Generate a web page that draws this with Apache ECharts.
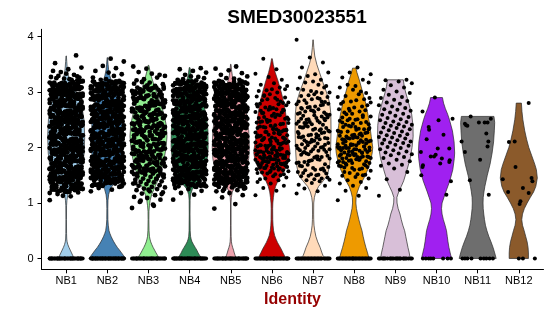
<!DOCTYPE html>
<html>
<head>
<meta charset="utf-8">
<script src="https://cdn.jsdelivr.net/npm/echarts@6/dist/echarts.min.js"></script>
<style>html,body{margin:0;padding:0;background:#fff}#c{width:550px;height:316px}</style>
</head>
<body>
<div id="c"></div>
<script>
// ---------- data ----------
const categories = ['NB1','NB2','NB3','NB4','NB5','NB6','NB7','NB8','NB9','NB10','NB11','NB12'];
const yTicks = [0, 1, 2, 3, 4];
const chartTitle = 'SMED30023551';
const xTitle = 'Identity';

// violin outlines: [expression value, relative half-width (1 = widest)]
const vNB1 = [[0,0.42],[0.05,0.36],[0.1,0.29],[0.15,0.22],[0.2,0.15],[0.25,0.09],[0.3,0.05],[0.35,0.03],[0.45,0.02],[0.7,0.015],[0.95,0.02],[1.05,0.04],[1.15,0.09],[1.25,0.2],[1.35,0.42],[1.5,0.7],[1.7,0.9],[1.9,0.97],[2.2,1.0],[2.5,0.96],[2.7,0.87],[2.9,0.68],[3.05,0.45],[3.15,0.28],[3.25,0.15],[3.35,0.08],[3.45,0.05],[3.55,0.03],[3.65,0.01]];
const vNB2 = [[0,1.0],[0.05,0.88],[0.1,0.77],[0.15,0.66],[0.2,0.54],[0.25,0.44],[0.3,0.35],[0.35,0.27],[0.4,0.2],[0.45,0.14],[0.5,0.09],[0.6,0.05],[0.7,0.03],[0.9,0.025],[1.05,0.035],[1.15,0.07],[1.25,0.15],[1.35,0.35],[1.45,0.55],[1.6,0.72],[1.8,0.82],[2.0,0.86],[2.3,0.86],[2.6,0.8],[2.8,0.68],[3.0,0.48],[3.1,0.34],[3.2,0.22],[3.3,0.13],[3.4,0.07],[3.5,0.04],[3.62,0.01]];
const vNB3 = [[0,0.6],[0.05,0.5],[0.1,0.41],[0.15,0.33],[0.2,0.25],[0.25,0.18],[0.3,0.12],[0.35,0.08],[0.4,0.05],[0.5,0.03],[0.7,0.02],[0.85,0.025],[0.95,0.05],[1.05,0.09],[1.15,0.17],[1.25,0.3],[1.35,0.43],[1.45,0.55],[1.6,0.7],[1.8,0.85],[2.0,0.95],[2.2,1.0],[2.4,0.96],[2.6,0.84],[2.8,0.64],[2.95,0.48],[3.1,0.32],[3.25,0.18],[3.38,0.08],[3.48,0.02]];
const vNB4 = [[0,0.66],[0.05,0.55],[0.1,0.46],[0.15,0.39],[0.2,0.3],[0.25,0.21],[0.3,0.13],[0.35,0.08],[0.4,0.05],[0.5,0.03],[0.8,0.02],[1.05,0.025],[1.15,0.05],[1.25,0.15],[1.35,0.4],[1.45,0.65],[1.6,0.85],[1.8,0.95],[2.0,1.0],[2.3,0.99],[2.6,0.9],[2.8,0.72],[2.95,0.52],[3.05,0.36],[3.15,0.22],[3.25,0.12],[3.35,0.06],[3.44,0.02]];
const vNB5 = [[0,0.29],[0.05,0.24],[0.1,0.19],[0.15,0.15],[0.2,0.1],[0.25,0.06],[0.3,0.035],[0.4,0.02],[0.6,0.015],[1.0,0.015],[1.1,0.03],[1.2,0.08],[1.3,0.25],[1.4,0.55],[1.6,0.85],[1.8,0.97],[2.0,1.0],[2.3,0.97],[2.6,0.85],[2.8,0.65],[3.0,0.38],[3.1,0.25],[3.2,0.15],[3.3,0.08],[3.4,0.04],[3.5,0.01]];
const vNB6 = [[0,0.74],[0.05,0.68],[0.1,0.6],[0.17,0.5],[0.23,0.4],[0.29,0.3],[0.35,0.22],[0.41,0.15],[0.5,0.09],[0.6,0.06],[0.7,0.045],[0.9,0.04],[1.0,0.05],[1.1,0.08],[1.2,0.12],[1.3,0.2],[1.4,0.33],[1.5,0.5],[1.6,0.7],[1.75,0.9],[1.9,0.98],[2.0,0.95],[2.2,0.85],[2.4,0.8],[2.6,0.75],[2.8,0.65],[3.0,0.5],[3.2,0.33],[3.35,0.18],[3.5,0.07],[3.6,0.02]];
const vNB7 = [[0,0.58],[0.05,0.54],[0.1,0.48],[0.2,0.38],[0.3,0.25],[0.4,0.15],[0.5,0.09],[0.6,0.05],[0.7,0.035],[0.8,0.03],[1.0,0.035],[1.1,0.07],[1.2,0.15],[1.3,0.3],[1.4,0.55],[1.5,0.78],[1.7,0.9],[2.0,0.95],[2.3,0.97],[2.6,0.96],[2.8,0.9],[3.0,0.72],[3.2,0.5],[3.35,0.35],[3.5,0.2],[3.65,0.09],[3.8,0.04],[3.94,0.01]];
const vNB8 = [[0,0.8],[0.1,0.72],[0.2,0.63],[0.3,0.55],[0.4,0.48],[0.5,0.42],[0.6,0.33],[0.7,0.25],[0.8,0.18],[0.9,0.12],[1.0,0.09],[1.1,0.1],[1.2,0.17],[1.3,0.28],[1.4,0.45],[1.5,0.6],[1.7,0.85],[1.9,0.97],[2.0,1.0],[2.2,0.92],[2.4,0.84],[2.6,0.74],[2.8,0.62],[3.0,0.45],[3.2,0.29],[3.35,0.15],[3.43,0.09]];
const vNB9 = [[0,0.8],[0.1,0.75],[0.2,0.68],[0.3,0.62],[0.4,0.56],[0.5,0.5],[0.6,0.4],[0.7,0.32],[0.8,0.25],[0.9,0.15],[1.0,0.09],[1.1,0.08],[1.2,0.18],[1.3,0.32],[1.4,0.45],[1.6,0.63],[1.8,0.8],[2.0,0.9],[2.2,0.96],[2.4,0.95],[2.6,0.88],[2.8,0.72],[3.0,0.55],[3.1,0.48],[3.22,0.43]];
const vNB10 = [[0,0.81],[0.1,0.74],[0.2,0.67],[0.3,0.62],[0.4,0.58],[0.5,0.54],[0.6,0.46],[0.7,0.37],[0.8,0.3],[0.9,0.27],[1.0,0.3],[1.1,0.4],[1.2,0.5],[1.4,0.72],[1.6,0.88],[1.8,0.96],[1.9,0.98],[2.1,0.95],[2.3,0.86],[2.5,0.7],[2.6,0.6],[2.7,0.48],[2.8,0.38],[2.9,0.32]];
const vNB11 = [[0,1.0],[0.1,0.92],[0.2,0.83],[0.3,0.72],[0.4,0.6],[0.5,0.5],[0.6,0.42],[0.7,0.37],[0.8,0.33],[0.9,0.3],[1.0,0.29],[1.1,0.3],[1.2,0.34],[1.3,0.39],[1.5,0.52],[1.7,0.67],[1.9,0.78],[2.1,0.86],[2.3,0.9],[2.45,0.92],[2.56,0.88]];
const vNB12 = [[0,0.52],[0.1,0.52],[0.2,0.5],[0.3,0.45],[0.4,0.37],[0.5,0.29],[0.6,0.2],[0.7,0.16],[0.8,0.2],[0.9,0.3],[1.0,0.45],[1.1,0.62],[1.2,0.8],[1.3,0.92],[1.45,1.0],[1.6,0.95],[1.7,0.86],[1.85,0.7],[2.0,0.54],[2.15,0.42],[2.3,0.32],[2.5,0.22],[2.65,0.17],[2.8,0.14]];

// non-zero cell values
const ptsNB1 = [1.05,1.12,1.16,1.19,
1.2,1.24,1.28,1.22,1.26,1.21,1.29,1.23,1.27,1.25,1.2,1.28,1.24,
1.33,1.37,1.31,1.39,1.35,1.3,1.36,1.32,1.38,1.34,1.37,1.31,1.35,
1.46,1.42,1.49,1.44,1.4,1.47,1.43,1.48,1.41,1.45,1.46,1.43,1.49,
1.59,1.55,1.52,1.57,1.53,1.58,1.5,1.54,1.56,1.51,1.53,1.57,1.5,
1.61,1.66,1.63,1.68,1.64,1.69,1.62,1.67,1.65,1.6,1.69,1.64,1.62,
1.7,1.74,1.78,1.72,1.76,1.71,1.79,1.73,1.77,1.75,1.7,1.78,1.74,
1.83,1.87,1.81,1.89,1.85,1.8,1.86,1.82,1.88,1.84,1.87,1.81,1.85,
1.96,1.92,1.99,1.94,1.9,1.97,1.93,1.98,1.91,1.95,1.96,1.93,1.99,
2.09,2.05,2.02,2.07,2.03,2.08,2,2.04,2.06,2.01,2.03,2.07,2,
2.11,2.16,2.13,2.18,2.14,2.19,2.12,2.17,2.15,2.1,2.19,2.14,2.12,
2.2,2.24,2.28,2.22,2.26,2.21,2.29,2.23,2.27,2.25,2.2,2.28,2.24,
2.33,2.37,2.31,2.39,2.35,2.3,2.36,2.32,2.38,2.34,2.37,2.31,2.35,
2.46,2.42,2.49,2.44,2.4,2.47,2.43,2.48,2.41,2.45,2.46,2.43,2.49,
2.59,2.55,2.52,2.57,2.53,2.58,2.5,2.54,2.56,2.51,2.53,2.57,2.5,
2.61,2.66,2.63,2.68,2.64,2.69,2.62,2.67,2.65,2.6,2.69,2.64,2.62,
2.7,2.74,2.78,2.72,2.76,2.71,2.79,2.73,2.77,2.75,2.7,2.78,2.74,
2.83,2.87,2.81,2.89,2.85,2.8,2.86,2.82,2.88,2.84,2.87,2.81,2.85,
2.96,2.92,2.99,2.94,2.9,2.97,2.93,2.98,2.91,2.95,2.96,2.93,2.99,
3.09,3.05,3.02,3.07,3.03,3.08,3,3.04,3.06,3.01,3.03,3.07,3,
3.11,3.16,3.13,3.18,3.14,3.19,3.12,3.17,3.15,3.1,3.19,3.14,3.12,
3.21,3.24,3.27,3.22,3.29,3.26,3.33,3.38,3.31,3.36,3.44,3.41,3.52,3.66,
1.13,1.18,
1.25,1.21,1.28,1.23,1.29,1.26,1.22,1.27,1.2,1.24,1.29,1.23,1.26,
1.38,1.32,1.35,1.3,1.37,1.33,1.39,1.31,1.36,1.34,1.32,1.38,1.35,
1.42,1.49,1.46,1.41,1.48,1.44,1.4,1.47,1.43,1.45,1.41,1.46,1.48,
1.54,1.5,1.57,1.55,1.51,1.59,1.56,1.52,1.58,1.53,1.5,1.55,1.57,
1.67,1.63,1.6,1.66,1.62,1.65,1.68,1.64,1.69,1.61,1.64,1.6,1.66,
1.75,1.71,1.78,1.73,1.79,1.76,1.72,1.77,1.7,1.74,1.79,1.73,1.76,
1.88,1.82,1.85,1.8,1.87,1.83,1.89,1.81,1.86,1.84,1.82,1.88,1.85,
1.92,1.99,1.96,1.91,1.98,1.94,1.9,1.97,1.93,1.95,1.91,1.96,1.98,
2.04,2,2.07,2.05,2.01,2.09,2.06,2.02,2.08,2.03,2,2.05,2.07,
2.17,2.13,2.1,2.16,2.12,2.15,2.18,2.14,2.19,2.11,2.14,2.1,2.16,
2.25,2.21,2.28,2.23,2.29,2.26,2.22,2.27,2.2,2.24,2.29,2.23,2.26,
2.38,2.32,2.35,2.3,2.37,2.33,2.39,2.31,2.36,2.34,2.32,2.38,2.35,
2.42,2.49,2.46,2.41,2.48,2.44,2.4,2.47,2.43,2.45,2.41,2.46,2.48,
2.54,2.5,2.57,2.55,2.51,2.59,2.56,2.52,2.58,2.53,2.5,2.55,2.57,
2.67,2.63,2.6,2.66,2.62,2.65,2.68,2.64,2.69,2.61,2.64,2.6,2.66,
2.75,2.71,2.78,2.73,2.79,2.76,2.72,2.77,2.7,2.74,2.79,2.73,2.76,
2.88,2.82,2.85,2.8,2.87,2.83,2.89,2.81,2.86,2.84,2.82,2.88,2.85,
2.92,2.99,2.96,2.91,2.98,2.94,2.9,2.97,2.93,2.95,2.91,2.96,2.98,
3.04,3,3.07,3.05,3.01,3.09,3.06,3.02,3.08,3.03,3,3.05,3.07,
3.17,3.13,3.1,3.16,3.12,3.15,3.18,3.14,3.19,3.11,3.14,3.1,3.16,
3.2,3.23,3.25,3.28];
const ptsNB2 = [1.21,1.24,1.27,1.29,
1.36,1.32,1.39,1.34,1.3,1.37,1.33,1.38,1.31,1.35,1.36,1.33,1.39,
1.49,1.45,1.42,1.47,1.43,1.48,1.4,1.44,1.46,1.41,1.43,1.47,1.4,
1.51,1.56,1.53,1.58,1.54,1.59,1.52,1.57,1.55,1.5,1.59,1.54,1.52,
1.6,1.64,1.68,1.62,1.66,1.61,1.69,1.63,1.67,1.65,1.6,1.68,1.64,
1.73,1.77,1.71,1.79,1.75,1.7,1.76,1.72,1.78,1.74,1.77,1.71,1.75,
1.86,1.82,1.89,1.84,1.8,1.87,1.83,1.88,1.81,1.85,1.86,1.83,1.89,
1.99,1.95,1.92,1.97,1.93,1.98,1.9,1.94,1.96,1.91,1.93,1.97,1.9,
2.01,2.06,2.03,2.08,2.04,2.09,2.02,2.07,2.05,2,2.09,2.04,2.02,
2.1,2.14,2.18,2.12,2.16,2.11,2.19,2.13,2.17,2.15,2.1,2.18,2.14,
2.23,2.27,2.21,2.29,2.25,2.2,2.26,2.22,2.28,2.24,2.27,2.21,2.25,
2.36,2.32,2.39,2.34,2.3,2.37,2.33,2.38,2.31,2.35,2.36,2.33,2.39,
2.49,2.45,2.42,2.47,2.43,2.48,2.4,2.44,2.46,2.41,2.43,2.47,2.4,
2.51,2.56,2.53,2.58,2.54,2.59,2.52,2.57,2.55,2.5,2.59,2.54,2.52,
2.6,2.64,2.68,2.62,2.66,2.61,2.69,2.63,2.67,2.65,2.6,2.68,2.64,
2.73,2.77,2.71,2.79,2.75,2.7,2.76,2.72,2.78,2.74,2.77,2.71,2.75,
2.86,2.82,2.89,2.84,2.8,2.87,2.83,2.88,2.81,2.85,2.86,2.83,2.89,
2.99,2.95,2.92,2.97,2.93,2.98,2.9,2.94,2.96,2.91,2.93,2.97,2.9,
3.01,3.06,3.03,3.08,3.04,3.09,3.02,3.07,3.05,3,3.09,3.04,3.02,
3.1,3.14,3.18,3.12,3.16,3.11,3.19,3.13,3.17,3.15,3.1,3.18,3.14,
3.2,3.23,3.26,3.29,3.22,3.32,3.35,3.38,3.43,3.47,3.55,3.6,
1.32,1.39,1.36,1.31,1.38,1.34,1.3,1.37,1.33,1.35,1.31,1.36,1.38,
1.44,1.4,1.47,1.45,1.41,1.49,1.46,1.42,1.48,1.43,1.4,1.45,1.47,
1.57,1.53,1.5,1.56,1.52,1.55,1.58,1.54,1.59,1.51,1.54,1.5,1.56,
1.65,1.61,1.68,1.63,1.69,1.66,1.62,1.67,1.6,1.64,1.69,1.63,1.66,
1.78,1.72,1.75,1.7,1.77,1.73,1.79,1.71,1.76,1.74,1.72,1.78,1.75,
1.82,1.89,1.86,1.81,1.88,1.84,1.8,1.87,1.83,1.85,1.81,1.86,1.88,
1.94,1.9,1.97,1.95,1.91,1.99,1.96,1.92,1.98,1.93,1.9,1.95,1.97,
2.07,2.03,2,2.06,2.02,2.05,2.08,2.04,2.09,2.01,2.04,2,2.06,
2.15,2.11,2.18,2.13,2.19,2.16,2.12,2.17,2.1,2.14,2.19,2.13,2.16,
2.28,2.22,2.25,2.2,2.27,2.23,2.29,2.21,2.26,2.24,2.22,2.28,2.25,
2.32,2.39,2.36,2.31,2.38,2.34,2.3,2.37,2.33,2.35,2.31,2.36,2.38,
2.44,2.4,2.47,2.45,2.41,2.49,2.46,2.42,2.48,2.43,2.4,2.45,2.47,
2.57,2.53,2.5,2.56,2.52,2.55,2.58,2.54,2.59,2.51,2.54,2.5,2.56,
2.65,2.61,2.68,2.63,2.69,2.66,2.62,2.67,2.6,2.64,2.69,2.63,2.66,
2.78,2.72,2.75,2.7,2.77,2.73,2.79,2.71,2.76,2.74,2.72,2.78,2.75,
2.82,2.89,2.86,2.81,2.88,2.84,2.8,2.87,2.83,2.85,2.81,2.86,2.88,
2.94,2.9,2.97,2.95,2.91,2.99,2.96,2.92,2.98,2.93,2.9,2.95,2.97,
3.07,3.03,3,3.06,3.02,3.05,3.08,3.04,3.09,3.01,3.04,3,3.06,
3.15,3.11,3.18,3.13,3.19,3.16,3.12,3.17,3.1,3.14,3.19,3.13,3.16];
const ptsNB3 = [0.91,0.97,1.02,1.06,1.09,1.11,1.14,1.17,1.19,1.21,1.23,1.25,1.26,1.28,1.29,1.31,1.32,1.34,1.35,1.37,1.38,1.39,1.4,1.42,1.43,1.44,1.46,1.47,1.48,1.49,
1.51,1.56,1.53,1.58,1.54,1.59,1.52,1.57,1.55,1.5,
1.6,1.64,1.68,1.62,1.66,1.61,1.69,1.63,1.67,1.65,
1.73,1.77,1.71,1.79,1.75,1.7,1.76,1.72,1.78,1.74,
1.86,1.82,1.89,1.84,1.8,1.87,1.83,1.88,1.81,1.85,
1.99,1.95,1.92,1.97,1.93,1.98,1.9,1.94,1.96,1.91,
2.01,2.06,2.03,2.08,2.04,2.09,2.02,2.07,2.05,2,
2.1,2.14,2.18,2.12,2.16,2.11,2.19,2.13,2.17,2.15,
2.23,2.27,2.21,2.29,2.25,2.2,2.26,2.22,2.28,2.24,
2.36,2.32,2.39,2.34,2.3,2.37,2.33,2.38,2.31,2.35,
2.49,2.45,2.42,2.47,2.43,2.48,2.4,2.44,2.46,2.41,
2.51,2.56,2.53,2.58,2.54,2.59,2.52,2.57,2.55,2.5,
2.6,2.64,2.68,2.62,2.66,2.61,2.69,2.63,2.67,2.65,
2.73,2.77,2.71,2.79,2.75,2.7,2.76,2.72,2.78,2.74,
2.86,2.82,2.89,2.84,2.8,2.87,2.83,2.88,2.81,2.85,
2.99,2.95,2.92,2.97,2.93,2.98,2.9,2.94,2.96,2.91,
3.01,3.06,3.03,3.08,3.04,3.09,3.02,3.07,3.05,3,
3.12,3.15,3.11,3.18,3.14,3.17,3.21,3.26,3.23,3.29,3.33,3.36,3.31,3.42,3.46,
0.95,1.04,1.16,1.24,1.36,1.44,
1.55,1.51,1.58,1.53,1.59,1.56,
1.68,1.62,1.65,1.6,1.67,1.63,
1.72,1.79,1.76,1.71,1.78,1.74,
1.84,1.8,1.87,1.85,1.81,1.89,
1.97,1.93,1.9,1.96,1.92,1.95,
2.05,2.01,2.08,2.03,2.09,2.06,
2.18,2.12,2.15,2.1,2.17,2.13,
2.22,2.29,2.26,2.21,2.28,2.24,
2.34,2.3,2.37,2.35,2.31,2.39,
2.47,2.43,2.4,2.46,2.42,2.45,
2.55,2.51,2.58,2.53,2.59,2.56,
2.68,2.62,2.65,2.6,2.67,2.63,
2.72,2.79,2.76,2.71,2.78,2.74,
2.84,2.8,2.87,2.85,2.81,2.89,
2.97,2.93,2.9,2.96,2.92,2.95,
3.05,3.01,3.08,3.03,3.09,3.06];
const ptsNB4 = [1.06,1.15,1.18,1.22,1.25,1.27,1.29,
1.39,1.35,1.32,1.37,1.33,1.38,1.3,1.34,1.36,1.31,1.33,1.37,1.3,
1.41,1.46,1.43,1.48,1.44,1.49,1.42,1.47,1.45,1.4,1.49,1.44,1.42,
1.5,1.54,1.58,1.52,1.56,1.51,1.59,1.53,1.57,1.55,1.5,1.58,1.54,
1.63,1.67,1.61,1.69,1.65,1.6,1.66,1.62,1.68,1.64,1.67,1.61,1.65,
1.76,1.72,1.79,1.74,1.7,1.77,1.73,1.78,1.71,1.75,1.76,1.73,1.79,
1.89,1.85,1.82,1.87,1.83,1.88,1.8,1.84,1.86,1.81,1.83,1.87,1.8,
1.91,1.96,1.93,1.98,1.94,1.99,1.92,1.97,1.95,1.9,1.99,1.94,1.92,
2,2.04,2.08,2.02,2.06,2.01,2.09,2.03,2.07,2.05,2,2.08,2.04,
2.13,2.17,2.11,2.19,2.15,2.1,2.16,2.12,2.18,2.14,2.17,2.11,2.15,
2.26,2.22,2.29,2.24,2.2,2.27,2.23,2.28,2.21,2.25,2.26,2.23,2.29,
2.39,2.35,2.32,2.37,2.33,2.38,2.3,2.34,2.36,2.31,2.33,2.37,2.3,
2.41,2.46,2.43,2.48,2.44,2.49,2.42,2.47,2.45,2.4,2.49,2.44,2.42,
2.5,2.54,2.58,2.52,2.56,2.51,2.59,2.53,2.57,2.55,2.5,2.58,2.54,
2.63,2.67,2.61,2.69,2.65,2.6,2.66,2.62,2.68,2.64,2.67,2.61,2.65,
2.76,2.72,2.79,2.74,2.7,2.77,2.73,2.78,2.71,2.75,2.76,2.73,2.79,
2.89,2.85,2.82,2.87,2.83,2.88,2.8,2.84,2.86,2.81,2.83,2.87,2.8,
2.91,2.96,2.93,2.98,2.94,2.99,2.92,2.97,2.95,2.9,2.99,2.94,2.92,
3,3.04,3.08,3.02,3.06,3.01,3.09,3.03,3.07,3.05,3,3.08,3.04,
3.13,3.17,3.11,3.19,3.15,3.1,3.16,3.12,3.18,3.14,3.17,3.11,3.15,
3.21,3.23,3.25,3.28,3.22,3.27,3.31,3.35,3.38,3.41,3.43,
1.37,1.33,1.3,1.36,1.32,1.35,1.38,1.34,1.39,1.31,1.34,1.3,1.36,
1.45,1.41,1.48,1.43,1.49,1.46,1.42,1.47,1.4,1.44,1.49,1.43,1.46,
1.58,1.52,1.55,1.5,1.57,1.53,1.59,1.51,1.56,1.54,1.52,1.58,1.55,
1.62,1.69,1.66,1.61,1.68,1.64,1.6,1.67,1.63,1.65,1.61,1.66,1.68,
1.74,1.7,1.77,1.75,1.71,1.79,1.76,1.72,1.78,1.73,1.7,1.75,1.77,
1.87,1.83,1.8,1.86,1.82,1.85,1.88,1.84,1.89,1.81,1.84,1.8,1.86,
1.95,1.91,1.98,1.93,1.99,1.96,1.92,1.97,1.9,1.94,1.99,1.93,1.96,
2.08,2.02,2.05,2,2.07,2.03,2.09,2.01,2.06,2.04,2.02,2.08,2.05,
2.12,2.19,2.16,2.11,2.18,2.14,2.1,2.17,2.13,2.15,2.11,2.16,2.18,
2.24,2.2,2.27,2.25,2.21,2.29,2.26,2.22,2.28,2.23,2.2,2.25,2.27,
2.37,2.33,2.3,2.36,2.32,2.35,2.38,2.34,2.39,2.31,2.34,2.3,2.36,
2.45,2.41,2.48,2.43,2.49,2.46,2.42,2.47,2.4,2.44,2.49,2.43,2.46,
2.58,2.52,2.55,2.5,2.57,2.53,2.59,2.51,2.56,2.54,2.52,2.58,2.55,
2.62,2.69,2.66,2.61,2.68,2.64,2.6,2.67,2.63,2.65,2.61,2.66,2.68,
2.74,2.7,2.77,2.75,2.71,2.79,2.76,2.72,2.78,2.73,2.7,2.75,2.77,
2.87,2.83,2.8,2.86,2.82,2.85,2.88,2.84,2.89,2.81,2.84,2.8,2.86,
2.95,2.91,2.98,2.93,2.99,2.96,2.92,2.97,2.9,2.94,2.99,2.93,2.96,
3.08,3.02,3.05,3,3.07,3.03,3.09,3.01,3.06,3.04,3.02,3.08,3.05,
3.12,3.19,3.16,3.11,3.18,3.14,3.1,3.17,3.13,3.15,3.11,3.16,3.18];
const ptsNB5 = [0.9,0.98,1.1,1.14,1.18,1.21,1.23,1.25,1.27,1.28,1.29,
1.3,1.34,1.38,1.32,1.36,1.31,1.39,1.33,1.37,1.35,1.3,1.38,1.34,
1.43,1.47,1.41,1.49,1.45,1.4,1.46,1.42,1.48,1.44,1.47,1.41,1.45,
1.56,1.52,1.59,1.54,1.5,1.57,1.53,1.58,1.51,1.55,1.56,1.53,1.59,
1.69,1.65,1.62,1.67,1.63,1.68,1.6,1.64,1.66,1.61,1.63,1.67,1.6,
1.71,1.76,1.73,1.78,1.74,1.79,1.72,1.77,1.75,1.7,1.79,1.74,1.72,
1.8,1.84,1.88,1.82,1.86,1.81,1.89,1.83,1.87,1.85,1.8,1.88,1.84,
1.93,1.97,1.91,1.99,1.95,1.9,1.96,1.92,1.98,1.94,1.97,1.91,1.95,
2.06,2.02,2.09,2.04,2,2.07,2.03,2.08,2.01,2.05,2.06,2.03,2.09,
2.19,2.15,2.12,2.17,2.13,2.18,2.1,2.14,2.16,2.11,2.13,2.17,2.1,
2.21,2.26,2.23,2.28,2.24,2.29,2.22,2.27,2.25,2.2,2.29,2.24,2.22,
2.3,2.34,2.38,2.32,2.36,2.31,2.39,2.33,2.37,2.35,2.3,2.38,2.34,
2.43,2.47,2.41,2.49,2.45,2.4,2.46,2.42,2.48,2.44,2.47,2.41,2.45,
2.56,2.52,2.59,2.54,2.5,2.57,2.53,2.58,2.51,2.55,2.56,2.53,2.59,
2.69,2.65,2.62,2.67,2.63,2.68,2.6,2.64,2.66,2.61,2.63,2.67,2.6,
2.71,2.76,2.73,2.78,2.74,2.79,2.72,2.77,2.75,2.7,2.79,2.74,2.72,
2.8,2.84,2.88,2.82,2.86,2.81,2.89,2.83,2.87,2.85,2.8,2.88,2.84,
2.93,2.97,2.91,2.99,2.95,2.9,2.96,2.92,2.98,2.94,2.97,2.91,2.95,
3.06,3.02,3.09,3.04,3,3.07,3.03,3.08,3.01,3.05,3.06,3.03,3.09,
3.19,3.15,3.12,3.17,3.13,3.18,3.1,3.14,3.16,3.11,3.13,3.17,3.1,
3.2,3.22,3.25,3.28,3.24,3.31,3.34,3.39,3.42,3.46,
1.22,1.26,
1.38,1.32,1.35,1.3,1.37,1.33,1.39,1.31,1.36,1.34,1.32,1.38,1.35,
1.42,1.49,1.46,1.41,1.48,1.44,1.4,1.47,1.43,1.45,1.41,1.46,1.48,
1.54,1.5,1.57,1.55,1.51,1.59,1.56,1.52,1.58,1.53,1.5,1.55,1.57,
1.67,1.63,1.6,1.66,1.62,1.65,1.68,1.64,1.69,1.61,1.64,1.6,1.66,
1.75,1.71,1.78,1.73,1.79,1.76,1.72,1.77,1.7,1.74,1.79,1.73,1.76,
1.88,1.82,1.85,1.8,1.87,1.83,1.89,1.81,1.86,1.84,1.82,1.88,1.85,
1.92,1.99,1.96,1.91,1.98,1.94,1.9,1.97,1.93,1.95,1.91,1.96,1.98,
2.04,2,2.07,2.05,2.01,2.09,2.06,2.02,2.08,2.03,2,2.05,2.07,
2.17,2.13,2.1,2.16,2.12,2.15,2.18,2.14,2.19,2.11,2.14,2.1,2.16,
2.25,2.21,2.28,2.23,2.29,2.26,2.22,2.27,2.2,2.24,2.29,2.23,2.26,
2.38,2.32,2.35,2.3,2.37,2.33,2.39,2.31,2.36,2.34,2.32,2.38,2.35,
2.42,2.49,2.46,2.41,2.48,2.44,2.4,2.47,2.43,2.45,2.41,2.46,2.48,
2.54,2.5,2.57,2.55,2.51,2.59,2.56,2.52,2.58,2.53,2.5,2.55,2.57,
2.67,2.63,2.6,2.66,2.62,2.65,2.68,2.64,2.69,2.61,2.64,2.6,2.66,
2.75,2.71,2.78,2.73,2.79,2.76,2.72,2.77,2.7,2.74,2.79,2.73,2.76,
2.88,2.82,2.85,2.8,2.87,2.83,2.89,2.81,2.86,2.84,2.82,2.88,2.85,
2.92,2.99,2.96,2.91,2.98,2.94,2.9,2.97,2.93,2.95,2.91,2.96,2.98,
3.04,3,3.07,3.05,3.01,3.09,3.06,3.02,3.08,3.03,3,3.05,3.07,
3.17,3.13,3.1,3.16,3.12,3.15,3.18,3.14,3.19,3.11,3.14,3.1,3.16];
const ptsNB6 = [1.14,1.22,1.27,1.31,1.35,1.38,1.41,1.44,1.46,1.48,1.43,
1.5,1.53,1.57,1.52,1.55,1.59,1.56,
1.61,1.66,1.63,1.68,1.64,1.69,1.62,1.67,1.65,1.62,1.67,
1.7,1.74,1.78,1.72,1.76,1.71,1.79,1.73,1.77,1.75,1.73,1.79,
1.83,1.87,1.81,1.89,1.85,1.8,1.86,1.82,1.88,1.84,1.86,1.81,
1.96,1.92,1.99,1.94,1.9,1.97,1.93,1.98,1.91,1.95,1.94,1.91,
2.09,2.05,2.02,2.07,2.03,2.08,2,2.04,2.06,2.01,
2.11,2.16,2.13,2.18,2.14,2.19,2.12,2.17,2.15,2.18,
2.2,2.24,2.28,2.22,2.26,2.21,2.29,2.23,2.27,
2.33,2.37,2.31,2.39,2.35,2.3,2.36,2.32,2.33,
2.46,2.42,2.49,2.44,2.4,2.47,2.43,2.48,2.45,
2.59,2.55,2.52,2.57,2.53,2.58,2.5,2.54,
2.61,2.66,2.63,2.68,2.64,2.69,2.62,2.67,
2.7,2.74,2.78,2.72,2.76,2.71,2.79,
2.83,2.87,2.81,2.89,2.85,2.8,
2.96,2.92,2.99,2.94,2.9,
3.05,3.02,3.08,3.03,3.11,3.16,3.13,3.22,3.27,3.33,3.41,3.6,
1.52,1.58,1.54,1.6,1.63,1.66,1.69,1.64,1.71,1.74,1.77,1.79,1.72,1.81,1.84,1.87,1.89,1.82,1.85,1.9,
1.93,1.96,1.98,1.92,2.01,2.04,2.07,2.03,2.09,2.12,2.15,2.17,2.11,2.22,2.25,2.28,2.31,2.35,2.38,2.42,
2.46,2.51,2.55,2.62,2.68,2.73,2.78,2.86,2.93,3.05];
const ptsNB7 = [1.17,1.21,1.26,1.31,1.36,1.33,1.39,
1.41,1.46,1.43,1.48,1.44,1.49,1.42,
1.5,1.54,1.58,1.52,1.56,1.51,1.59,1.53,
1.63,1.67,1.61,1.69,1.65,1.6,1.66,1.62,
1.76,1.72,1.79,1.74,1.7,1.77,1.73,1.78,
1.89,1.85,1.82,1.87,1.83,1.88,1.8,1.84,
1.91,1.96,1.93,1.98,1.94,1.99,1.92,1.97,1.95,
2,2.04,2.08,2.02,2.06,2.01,2.09,2.03,2.07,
2.13,2.17,2.11,2.19,2.15,2.1,2.16,2.12,2.18,
2.26,2.22,2.29,2.24,2.2,2.27,2.23,2.28,2.21,
2.39,2.35,2.32,2.37,2.33,2.38,2.3,2.34,2.36,
2.41,2.46,2.43,2.48,2.44,2.49,2.42,2.47,2.45,
2.5,2.54,2.58,2.52,2.56,2.51,2.59,2.53,2.57,
2.63,2.67,2.61,2.69,2.65,2.6,2.66,2.62,
2.76,2.72,2.79,2.74,2.7,2.77,2.73,2.78,
2.89,2.85,2.82,2.87,2.83,2.88,2.8,
2.91,2.96,2.93,2.98,2.94,2.99,
3,3.04,3.08,3.02,3.06,3.13,3.17,3.11,3.19,
3.26,3.22,3.29,3.35,3.32,3.44,3.53,3.62,3.94,
1.84,1.92,2.05,2.14,2.25,2.31,2.44,2.55,2.64,2.71,2.83,1.75,1.97,2.18,2.36,2.52];
const ptsNB8 = [1.05,1.13,1.22,1.27,1.31,1.35,1.38,1.41,1.44,1.47,1.49,
1.5,1.54,1.58,1.52,1.56,1.51,
1.63,1.67,1.61,1.69,1.65,1.6,1.66,1.62,
1.76,1.72,1.79,1.74,1.7,1.77,1.73,1.78,1.71,1.75,
1.89,1.85,1.82,1.87,1.83,1.88,1.8,1.84,1.86,1.81,1.83,
1.91,1.96,1.93,1.98,1.94,1.99,1.92,1.97,1.95,1.9,1.99,
2,2.04,2.08,2.02,2.06,2.01,2.09,2.03,2.07,2.05,2,
2.13,2.17,2.11,2.19,2.15,2.1,2.16,2.12,2.18,2.14,
2.26,2.22,2.29,2.24,2.2,2.27,2.23,2.28,2.21,
2.39,2.35,2.32,2.37,2.33,2.38,2.3,2.34,
2.41,2.46,2.43,2.48,2.44,2.49,2.42,
2.5,2.54,2.58,2.52,2.56,2.51,
2.63,2.67,2.61,2.69,2.65,2.6,
2.76,2.72,2.79,2.74,2.7,
2.89,2.85,2.82,2.87,2.83,
2.91,2.96,2.93,2.98,3.04,3.08,3.01,3.13,3.17,3.11,3.26,3.22,3.35,3.32,3.44,
1.64,1.68,1.72,1.75,1.78,1.81,1.84,1.86,1.88,1.91,1.93,1.95,1.97,1.99,2.02,
2.04,2.06,2.08,2.11,2.14,2.17,2.21,2.25,2.29,2.33,2.37,2.45,2.55,2.66,2.81];
const ptsNB9 = [1.13,1.24,1.43,1.56,1.62,1.67,1.69,1.71,1.75,1.78,1.81,1.83,1.86,1.88,1.89,1.91,1.93,1.95,1.97,1.99,
2.01,2.03,2.05,2.07,2.08,2.09,2.11,2.13,2.14,2.16,2.18,2.19,2.21,2.22,2.24,2.26,2.27,2.29,
2.31,2.33,2.35,2.36,2.38,2.39,2.41,2.42,2.44,2.46,2.47,2.49,2.51,2.53,2.55,2.57,2.59,
2.61,2.63,2.66,2.68,2.69,2.71,2.74,2.76,2.79,2.81,2.84,2.86,2.89,2.91,2.95,2.98,
3.01,3.04,3.08,3.12,3.16,3.19,3.21,3.22];
const ptsNB10 = [2.9,2.65,2.49,2.52,2.37,2.32,2.23,2.15,1.98,1.98,1.92,1.87,1.84,1.84,1.8,1.77,1.71,1.74,1.68,1.65,1.5,1.39,1.15];
const ptsNB11 = [2.56,2.43,2.4,2.39,2.45,2.45,2.45,2.52,2.25,2.11,2.11,2.02,1.92,1.78,1.41,1.15];
const ptsNB12 = [2.8,2.1,2.11,1.65,1.43,1.45,1.39,1.27,1.2,1.18,1.03,0.98];
// number of cells with zero expression (drawn on the 0 line)
const zeroCounts = [40, 45, 36, 40, 38, 34, 30, 32, 24, 8, 9, 3];

// ---------- layout / style constants ----------
const COLORS = ['#a0cdea','#4682b4','#90ee90','#2e8b57','#eea2ad','#cd0000','#ffdab9','#ee9a00','#d8bfd8','#a020f0','#6e6e6e','#8b5a2b'];
const HALF_MAX = 0.45;     // widest violin half-width, in category units
const DOT = 4;             // point diameter
const DOT_CROWDED = 4.8;   // point diameter inside the five crowded groups
// horizontal jitter offsets cycled through for point placement
const JITTER = [-0.4,0.11,-0.21,0.29,-0.03,-0.35,0.16,-0.16,0.35,0.03,-0.29,0.21,-0.11,0.4,0.08,-0.24,0.27,-0.05,-0.37,0.13,-0.19,0.32,0,-0.32,0.19,-0.13,0.37,0.05,-0.27,0.24,-0.08];
// hand-read horizontal placement for the sparse groups (non-zero points, then zero points)
const JIT_NB10 = [-0.04,-0.34,0.05,0.39,-0.19,-0.18,0.17,-0.24,0.03,0.31,-0.38,-0.02,-0.14,-0.06,0.13,0.32,0.09,0.31,-0.33,-0.34,-0.37,0.35,0.24];
const JIT_NB10_ZERO = [-0.33,-0.26,-0.19,-0.14,-0.08,0.16,0.27,0.35];
const JIT_NB11 = [-0.17,-0.31,-0.28,-0.25,0.03,0.17,0.24,0.32,0.21,-0.39,0.26,0.24,-0.31,0.06,-0.19,0.27];
const JIT_NB11_ZERO = [-0.37,-0.31,-0.25,-0.15,0.07,0.15,0.21,0.29,0.37];
const JIT_NB12 = [0.24,-0.24,-0.1,-0.08,-0.39,0.31,0.33,0.1,-0.26,0.24,0.04,0.02];
const JIT_NB12_ZERO = [0,0.1,0.39];

const VIOLINS = [vNB1,vNB2,vNB3,vNB4,vNB5,vNB6,vNB7,vNB8,vNB9,vNB10,vNB11,vNB12];
const POINTS = [ptsNB1,ptsNB2,ptsNB3,ptsNB4,ptsNB5,ptsNB6,ptsNB7,ptsNB8,ptsNB9,ptsNB10,ptsNB11,ptsNB12];
const HAND_JIT = {9:[JIT_NB10,JIT_NB10_ZERO],10:[JIT_NB11,JIT_NB11_ZERO],11:[JIT_NB12,JIT_NB12_ZERO]};

const scatterData = [];
POINTS.forEach((ys, i) => {
  const pos = i + 1;
  const hj = HAND_JIT[i];
  ys.forEach((y, k) => {
    const dx = hj ? hj[0][k] : JITTER[k % JITTER.length];
    scatterData.push([pos + dx, y]);
  });
  for (let z = 0; z < zeroCounts[i]; z++) {
    const dx = hj ? hj[1][z] : JITTER[(z + 5 * i) % JITTER.length];
    scatterData.push([pos + dx, 0]);
  }
});

const FONT = 'Liberation Sans, Arial, Helvetica, sans-serif';
const chart = echarts.init(document.getElementById('c'), null, {renderer: 'canvas'});
chart.setOption({
  animation: false,
  backgroundColor: '#fff',
  textStyle: {fontFamily: FONT},
  title: {
    text: chartTitle, left: 292, top: 3, textAlign: 'center',
    textStyle: {fontFamily: FONT, fontSize: 19, fontWeight: 'bold', color: '#000'}
  },
  grid: {left: 41.5, right: 6.5, top: 29.3, bottom: 46.7, containLabel: false},
  xAxis: {
    type: 'value', min: 0.4, max: 12.6,
    splitLine: {show: false},
    axisLine: {show: true, onZero: false, lineStyle: {color: '#000', width: 1}},
    axisTick: {show: true, length: 4, lineStyle: {color: '#000'}, customValues: categories.map((c, i) => i + 1)},
    axisLabel: {
      customValues: categories.map((c, i) => i + 1),
      formatter: v => categories[Math.round(v) - 1],
      fontSize: 11, color: '#000', margin: 6, fontFamily: FONT
    },
    name: xTitle, nameLocation: 'middle', nameGap: 21,
    nameTextStyle: {fontFamily: FONT, fontWeight: 'bold', fontSize: 16, color: '#960000'}
  },
  yAxis: {
    type: 'value', min: -0.195, max: 4.13,
    splitLine: {show: false},
    axisLine: {show: true, onZero: false, lineStyle: {color: '#000', width: 1}},
    axisTick: {show: true, length: 4, lineStyle: {color: '#000'}, customValues: yTicks},
    axisLabel: {customValues: yTicks, fontSize: 11, color: '#000', margin: 8, fontFamily: FONT}
  },
  series: [
    {
      type: 'custom',
      data: categories.map((c, i) => [i + 1]),
      encode: {x: 0},
      silent: true,
      renderItem: (params, api) => {
        const idx = params.dataIndex;
        const shape = VIOLINS[idx];
        const c = api.value(0);
        const left = shape.map(p => api.coord([c - p[1] * HALF_MAX, p[0]]));
        const right = shape.map(p => api.coord([c + p[1] * HALF_MAX, p[0]])).reverse();
        return {
          type: 'polygon',
          shape: {points: left.concat(right)},
          style: {fill: COLORS[idx], stroke: '#2a2a2a', lineWidth: 0.7}
        };
      }
    },
    {
      type: 'scatter',
      data: scatterData,
      symbol: 'circle',
      symbolSize: v => (Math.round(v[0]) <= 5 && v[1] > 0) ? DOT_CROWDED : DOT,
      silent: true,
      itemStyle: {color: '#000', opacity: 1},
      z: 3
    }
  ]
});
</script>
</body>
</html>
